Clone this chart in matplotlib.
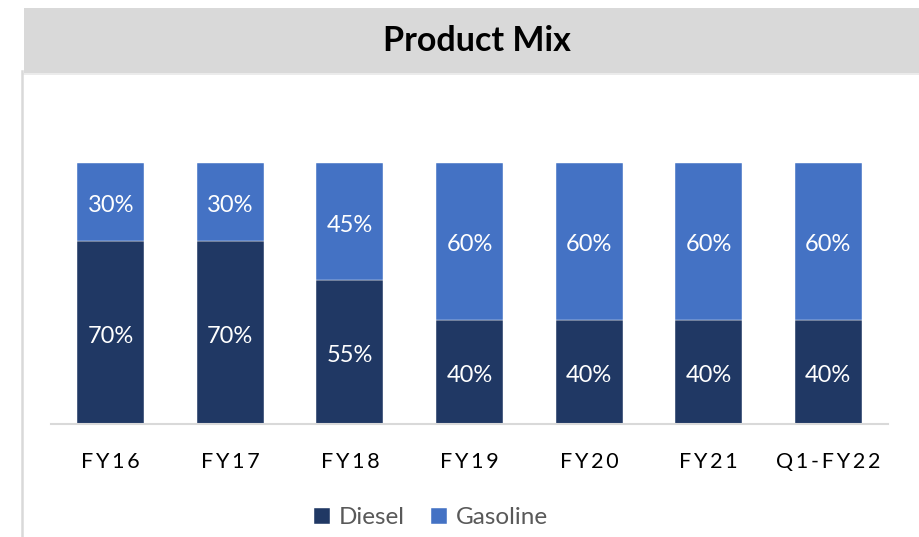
import matplotlib
matplotlib.use("Agg")
import matplotlib.pyplot as plt
from matplotlib.patches import Rectangle
from matplotlib.lines import Line2D
from matplotlib.transforms import offset_copy

categories = ["FY16", "FY17", "FY18", "FY19", "FY20", "FY21", "Q1-FY22"]
diesel = [70, 70, 55, 40, 40, 40, 40]
gasoline = [30, 30, 45, 60, 60, 60, 60]
series_names = ["Diesel", "Gasoline"]
title = "Product Mix"

c_diesel = "#203864"
c_gas = "#4472C4"

plt.rcParams['font.family'] = ['Lato', 'DejaVu Sans']

fig = plt.figure(figsize=(9.2, 5.37), dpi=100)
W, H = 920, 537

# title bar
fig.patches.append(Rectangle((24 / W, 1 - 73 / H), (920 - 24) / W, (73 - 8) / H,
                             transform=fig.transFigure, facecolor="#D9D9D9",
                             edgecolor="none", zorder=0))
fig.lines.append(Line2D([24 / W, 1], [1 - 73.5 / H, 1 - 73.5 / H], transform=fig.transFigure,
                        color="#E8E8E8", lw=1.2))
fig.lines.append(Line2D([22.5 / W, 22.5 / W], [0, 1 - 71 / H], transform=fig.transFigure,
                        color="#D9D9D9", lw=1.8))
fig.text(477 / W, 1 - 41 / H, title, ha="center", va="center", fontsize=24.5,
         fontweight="bold", color="black")

ax = fig.add_axes([51 / W, (537 - 424) / H, (888 - 51) / W, (424 - 163) / H])
x = list(range(len(categories)))
b1 = ax.bar(x, diesel, width=0.56, color=c_diesel, edgecolor="white", linewidth=0.3,
            label=series_names[0])
b2 = ax.bar(x, gasoline, width=0.56, bottom=diesel, color=c_gas, edgecolor="white",
            linewidth=0.3, label=series_names[1])

lbl_tr = offset_copy(ax.transData, fig=fig, x=0, y=-1.5, units="dots")
for xi, d, g in zip(x, diesel, gasoline):
    ax.text(xi, d / 2, f"{d}%", ha="center", va="center_baseline", color="white",
            fontsize=17, transform=lbl_tr)
    ax.text(xi, d + g / 2, f"{g}%", ha="center", va="center_baseline", color="white",
            fontsize=17, transform=lbl_tr)

ax.set_xlim(-0.5, len(categories) - 0.5)
ax.set_ylim(0, 100)
ax.set_xticks(x)
ax.set_xticklabels(["\u2009".join(c) for c in categories], fontsize=15.5, color="black")
ax.tick_params(axis="x", length=0, pad=20)
ax.set_yticks([])
for s in ["top", "left", "right"]:
    ax.spines[s].set_visible(False)
ax.spines["bottom"].set_color("#D9D9D9")
ax.spines["bottom"].set_linewidth(1.5)

leg = fig.legend(handles=[b1, b2], labels=series_names, loc="center",
                 bbox_to_anchor=(431 / W, 1 - 518 / H), ncol=2, frameon=False,
                 fontsize=17.5, handlelength=0.65, handleheight=0.65, columnspacing=1.1,
                 handletextpad=0.35)
for t in leg.get_texts():
    t.set_color("#595959")

fig.savefig("out.png", dpi=100)
